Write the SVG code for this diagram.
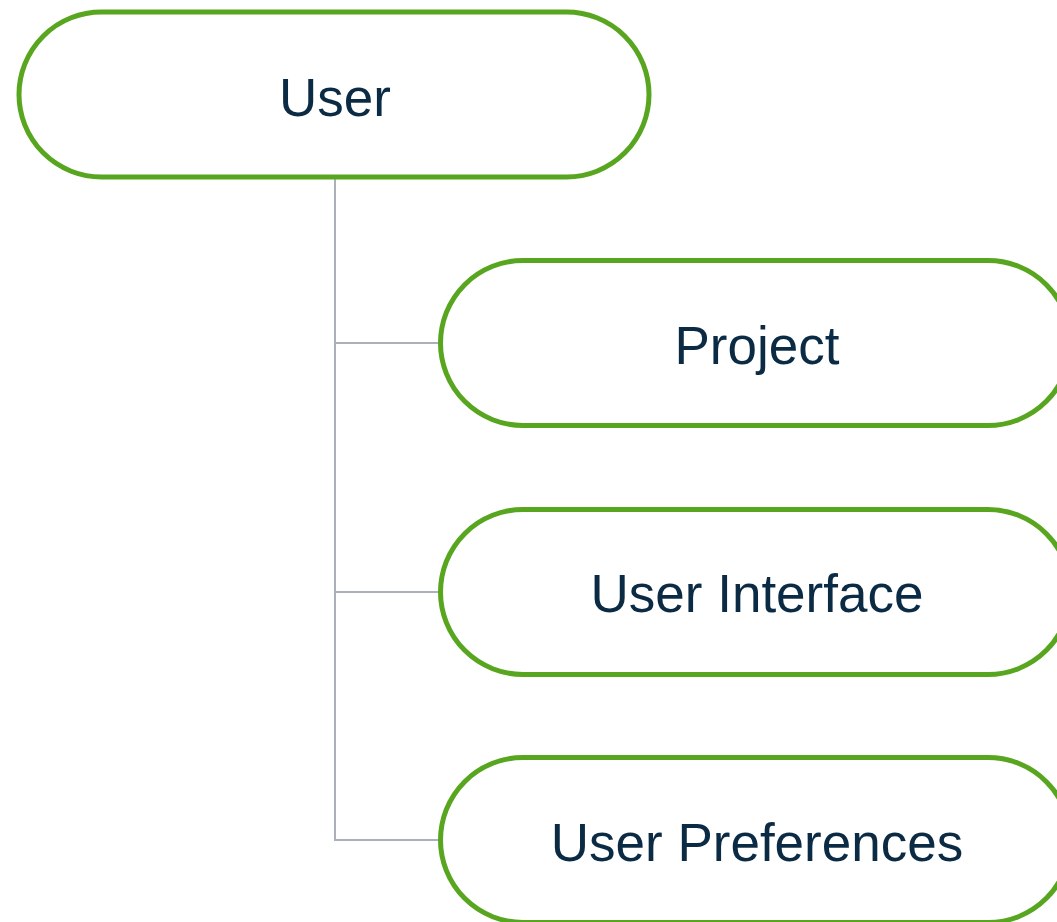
<svg xmlns="http://www.w3.org/2000/svg" width="1057" height="922" viewBox="0 0 1057 922">
<style>
.node rect{fill:#ffffff;stroke:#58a61f;stroke-width:5}
.node text{font-family:"Liberation Sans",Arial,sans-serif;font-size:53px;fill:#0b2a43;text-anchor:middle}
.conn{fill:none;stroke:#aab1ba;stroke-width:2}
</style>
<rect width="1057" height="922" fill="#ffffff"/>
<g id="connectors">
<path class="conn" d="M335,177 V840 H441"/>
<path class="conn" d="M335,343 H441"/>
<path class="conn" d="M335,592 H441"/>
</g>
<g id="node-user" class="node">
<rect x="19" y="12" width="630" height="165" rx="82.5" ry="82.5"/>
<text x="335" y="116">User</text>
</g>
<g id="node-project" class="node">
<rect x="440.5" y="260.5" width="630" height="165" rx="82.5" ry="82.5"/>
<text x="757" y="364">Project</text>
</g>
<g id="node-user-interface" class="node">
<rect x="440.5" y="509.5" width="630" height="165" rx="82.5" ry="82.5"/>
<text x="757" y="612">User Interface</text>
</g>
<g id="node-user-preferences" class="node">
<rect x="440.5" y="757.5" width="630" height="165" rx="82.5" ry="82.5"/>
<text x="757" y="861">User Preferences</text>
</g>
</svg>
